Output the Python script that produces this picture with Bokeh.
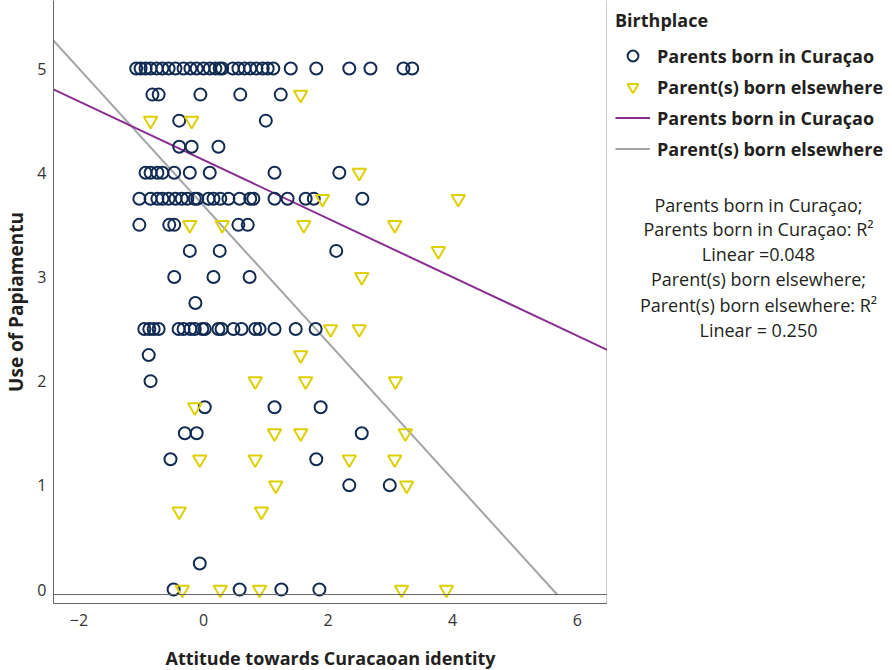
from bokeh.plotting import figure
from bokeh.layouts import row
from bokeh.models import Legend, LegendItem, Span, FixedTicker, Range1d
from bokeh.core.properties import value
from bokeh.embed import file_html
from bokeh.resources import INLINE

# ---- data ----
curacao_levels = [5.0, 4.75, 4.5, 4.25, 4.0, 3.75, 3.5, 3.25, 3.0, 2.75,
                  2.5, 2.25, 2.0, 1.75, 1.5, 1.25, 1.0, 0.25, 0.0]
curacao_rows = [
    [-1.08, -1.01, -0.93, -0.85, -0.75, -0.66, -0.56, -0.45, -0.32, -0.21,
     -0.11, 0.00, 0.10, 0.19, 0.26, 0.30, 0.47, 0.56, 0.66, 0.75,
     0.85, 0.95, 1.03, 1.12, 1.40, 1.81, 2.34, 2.68, 3.21, 3.35],
    [-0.82, -0.72, -0.05, 0.59, 1.24],
    [-0.39, 1.00],
    [-0.39, -0.19, 0.24],
    [-0.93, -0.85, -0.74, -0.66, -0.47, -0.22, 0.10, 1.14, 2.18],
    [-1.03, -0.85, -0.74, -0.66, -0.56, -0.45, -0.35, -0.26, -0.14, -0.10,
     0.08, 0.16, 0.27, 0.40, 0.58, 0.75, 0.80, 1.14, 1.35, 1.64, 1.77, 2.55],
    [-1.03, -0.55, -0.47, 0.56, 0.71],
    [-0.22, 0.26, 2.13],
    [-0.47, 0.16, 0.74],
    [-0.13],
    [-0.95, -0.87, -0.80, -0.72, -0.40, -0.32, -0.21, -0.14, -0.02, 0.02,
     0.24, 0.29, 0.48, 0.61, 0.83, 0.90, 1.14, 1.48, 1.80],
    [-0.88],
    [-0.85],
    [0.02, 1.14, 1.88],
    [-0.30, -0.11, 2.54],
    [-0.53, 1.81],
    [2.34, 2.99],
    [-0.06],
    [-0.48, 0.58, 1.25, 1.86],
]

elsewhere_levels = [4.75, 4.5, 4.0, 3.75, 3.5, 3.25, 3.0, 2.5, 2.25, 2.0,
                    1.75, 1.5, 1.25, 1.0, 0.75, 0.0]
elsewhere_rows = [
    [1.56],
    [-0.85, -0.19],
    [2.50],
    [1.91, 4.09],
    [-0.22, 0.30, 1.61, 3.07],
    [3.77],
    [2.54],
    [2.04, 2.50],
    [1.56],
    [0.83, 1.64, 3.08],
    [-0.14],
    [1.14, 1.56, 3.24],
    [-0.06, 0.83, 2.34, 3.07],
    [1.16, 3.26],
    [-0.39, 0.93],
    [-0.34, 0.27, 0.90, 3.18, 3.90],
]

fit_curacao_x = [-2.41, 6.48]
fit_curacao_y = [4.80, 2.30]
fit_elsewhere_x = [-2.41, 5.68]
fit_elsewhere_y = [5.27, -0.05]

x_ticks = [-2, 0, 2, 4, 6]
y_ticks = [0, 1, 2, 3, 4, 5]

legend_labels = ["Parents born in Curaçao", "Parent(s) born elsewhere",
                 "Parents born in Curaçao", "Parent(s) born elsewhere"]
note_lines = ["Parents born in Curaçao;", "Parents born in Curaçao: R²",
              "Linear =0.048", "Parent(s) born elsewhere;",
              "Parent(s) born elsewhere: R²", "Linear = 0.250"]

cur_x = [x for r in curacao_rows for x in r]
cur_y = [lv for lv, r in zip(curacao_levels, curacao_rows) for _ in r]
els_x = [x for r in elsewhere_rows for x in r]
els_y = [lv for lv, r in zip(elsewhere_levels, elsewhere_rows) for _ in r]

# ---- styles ----
NAVY = "#112a52"
YELLOW = "#ddcf00"
PURPLE = "#892d91"
GRAY = "#a2a5a8"
TEXT = "#231f20"
FONT = "Open Sans"
FRAME_H = 603

p = figure(frame_width=554, frame_height=FRAME_H,
           x_range=(-2.408, 6.485), y_range=(-0.134, 5.653),
           output_backend="svg", toolbar_location=None,
           min_border_left=47, min_border_top=0, min_border_bottom=0,
           min_border_right=0)
p.outline_line_color = None
p.grid.visible = False

circle_style = dict(marker="circle", size=12, fill_color=None,
                    line_color=NAVY, line_width=2)
tri_style = dict(marker="inverted_triangle", size=13.5, fill_color=None,
                 line_color=YELLOW, line_width=2)

p.line(fit_elsewhere_x, fit_elsewhere_y, line_color=GRAY, line_width=2)
p.line(fit_curacao_x, fit_curacao_y, line_color=PURPLE, line_width=2)
p.scatter(cur_x, cur_y, **circle_style)
p.scatter(els_x, els_y, **tri_style)

p.add_layout(Span(location=-0.048, dimension="width", line_color="#666666",
                  line_width=1))
p.add_layout(Span(location=6.48, dimension="height", line_color="#666666",
                  line_width=1))

for ax in (p.xaxis[0], p.yaxis[0]):
    ax.major_tick_out = 0
    ax.major_tick_in = 0
    ax.minor_tick_out = 0
    ax.minor_tick_in = 0
    ax.axis_line_color = "#666666"
    ax.major_label_text_font = FONT
    ax.major_label_text_font_size = "16px"
    ax.major_label_text_color = "#333333"
    ax.axis_label_text_font = FONT
    ax.axis_label_text_font_style = "bold"
    ax.axis_label_text_color = TEXT

p.xaxis.ticker = FixedTicker(ticks=x_ticks)
p.yaxis.ticker = FixedTicker(ticks=y_ticks)
p.xaxis.major_label_overrides = {-2: "−2"}
p.xaxis.axis_label = "Attitude towards Curacaoan identity"
p.yaxis.axis_label = "Use of Papiamentu"
p.xaxis.axis_label_text_font_size = "18px"
p.yaxis.axis_label_text_font_size = "19px"
p.xaxis.major_label_standoff = 10
p.xaxis.axis_label_standoff = 17
p.yaxis.major_label_standoff = 7
p.yaxis.axis_label_standoff = 5

# ---- side panel with legend and R² note (pixel-like coordinates) ----
side = figure(frame_width=277, frame_height=FRAME_H,
              x_range=Range1d(0, 277), y_range=Range1d(FRAME_H, 0),
              output_backend="svg", toolbar_location=None,
              x_axis_location=None, y_axis_location=None,
              min_border_left=0, min_border_right=0, min_border_top=0,
              min_border_bottom=0)
side.outline_line_color = None
side.grid.visible = False

# legend keys (placed outside the visible range; only their swatches show)
key_x = [-100]
key_y = [-100]
k_c = side.scatter(key_x, key_y, **circle_style)
k_e = side.scatter(key_x, key_y, **tri_style)
k_lc = side.line(key_x, key_y, line_color=PURPLE, line_width=2)
k_le = side.line(key_x, key_y, line_color=GRAY, line_width=2)

legend = Legend(items=[
    LegendItem(label=legend_labels[0], renderers=[k_c]),
    LegendItem(label=legend_labels[1], renderers=[k_e]),
    LegendItem(label=legend_labels[2], renderers=[k_lc]),
    LegendItem(label=legend_labels[3], renderers=[k_le]),
], title="Birthplace", location="top_left")
legend.margin = 8
legend.padding = 0
legend.border_line_color = None
legend.background_fill_alpha = 0
legend.label_text_font = FONT
legend.label_text_font_size = "18px"
legend.label_text_font_style = "bold"
legend.label_text_color = TEXT
legend.title_text_font = FONT
legend.title_text_font_size = "18px"
legend.title_text_font_style = "bold"
legend.title_text_color = TEXT
legend.title_standoff = 10
legend.glyph_width = 35
legend.glyph_height = 27
legend.label_height = 27
legend.label_standoff = 7
legend.spacing = 4
side.add_layout(legend, "center")

note_x = [151] * len(note_lines)
note_y = [204, 228, 253, 278, 304, 329]
side.text(note_x, note_y, text=note_lines, text_align="center",
          text_baseline="middle", text_font=value(FONT),
          text_font_size="18px", text_color=TEXT)

layout = row(p, side)
open("out.html", "w").write(file_html(layout, INLINE))
